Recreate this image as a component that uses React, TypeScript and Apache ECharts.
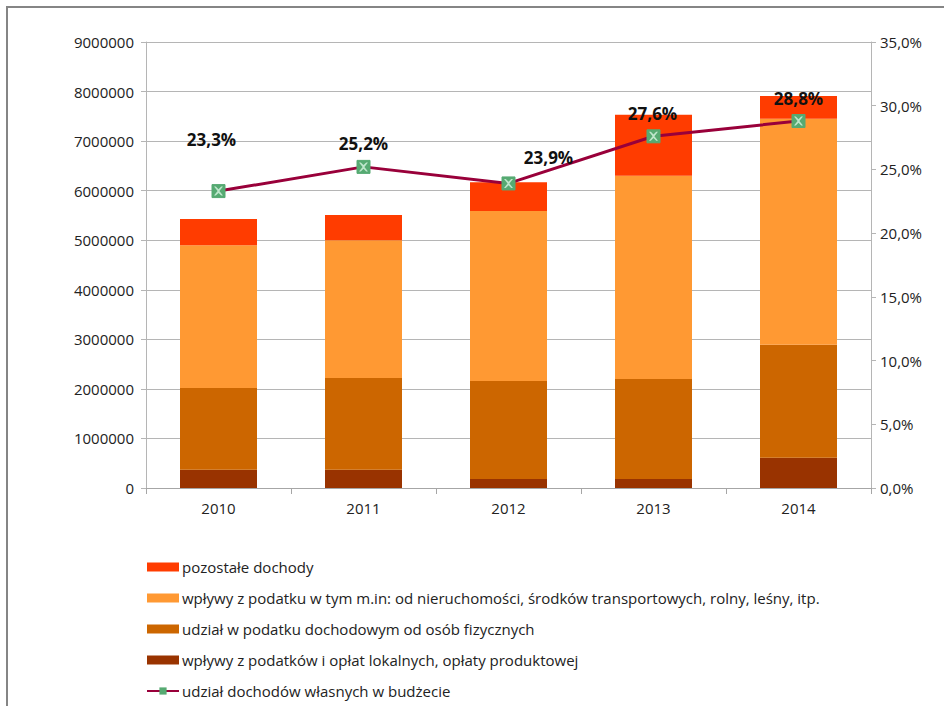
import React, { useEffect, useRef } from "react";
import * as echarts from "echarts";

const years = ["2010", "2011", "2012", "2013", "2014"];
const oplatyLokalne = [370000, 370000, 180000, 180000, 610000];
const udzialPIT = [1650000, 1850000, 1980000, 2020000, 2280000];
const podatkiNieruch = [2880000, 2780000, 3430000, 4100000, 4560000];
const pozostale = [530000, 510000, 580000, 1230000, 460000];
const udzialWlasnych = [23.3, 25.2, 23.9, 27.6, 28.8];
const leftTicks = { min: 0, max: 9000000, interval: 1000000 };
const rightTicks = { min: 0, max: 35, interval: 5 };
const labelOffsets: [number, number][] = [[-7, -31], [0, -3], [40, -5], [-1, -2], [0, -2]];

const names = [
  "pozostałe dochody",
  "wpływy z podatku w tym m.in: od nieruchomości, środków transportowych, rolny, leśny, itp.",
  "udział w podatku dochodowym od osób fizycznych",
  "wpływy z podatków i opłat lokalnych, opłaty produktowej",
  "udział dochodów własnych w budżecie",
];

const FONT = "'Open Sans', 'Liberation Sans', sans-serif";

export default function App() {
  const ref = useRef<HTMLDivElement>(null);
  useEffect(() => {
    if (!ref.current) return;
    const chart = echarts.init(ref.current, undefined, { renderer: "svg" });
    const bar = (name: string, data: number[], color: string) => ({
      name,
      type: "bar",
      stack: "total",
      barWidth: 77,
      data,
      itemStyle: { color },
      yAxisIndex: 0,
    });
    chart.setOption({
      animation: false,
      backgroundColor: "#ffffff",
      textStyle: { fontFamily: FONT },
      graphic: [
        {
          type: "rect",
          shape: { x: 7, y: 7, width: 1000, height: 800 },
          style: { fill: "none", stroke: "#858585", lineWidth: 2 },
          silent: true,
        },
      ],
      grid: { left: 146, right: 73, top: 42, bottom: 218 },
      legend: {
        orient: "vertical",
        left: 146,
        top: 557,
        height: 149,
        padding: 0,
        itemWidth: 32,
        itemHeight: 9,
        itemGap: 11,
        data: [
          { name: names[0], icon: "rect" },
          { name: names[1], icon: "rect" },
          { name: names[2], icon: "rect" },
          { name: names[3], icon: "rect" },
          { name: names[4] },
        ],
        textStyle: { fontSize: 15, color: "#222", fontFamily: FONT, lineHeight: 20, padding: [0, 0, 0, -2] },
      },
      xAxis: {
        type: "category",
        data: years,
        axisLine: { lineStyle: { color: "#a6a6a6", width: 1 } },
        axisTick: { show: true, length: 6, lineStyle: { color: "#a6a6a6" } },
        axisLabel: { fontSize: 15, color: "#222", margin: 12 },
      },
      yAxis: [
        {
          type: "value",
          ...leftTicks,
          axisLine: { show: true, lineStyle: { color: "#b5b5b5" } },
          axisTick: { show: true, length: 5, lineStyle: { color: "#b5b5b5" } },
          splitLine: { lineStyle: { color: "#b5b5b5" } },
          axisLabel: { fontSize: 15, color: "#222", margin: 12, formatter: (v: number) => String(v) },
        },
        {
          type: "value",
          ...rightTicks,
          position: "right",
          axisLine: { show: true, lineStyle: { color: "#b5b5b5" } },
          axisTick: { show: true, length: 5, lineStyle: { color: "#b5b5b5" } },
          splitLine: { show: false },
          axisLabel: {
            fontSize: 15,
            color: "#222",
            margin: 9,
            formatter: (v: number) => v.toFixed(1).replace(".", ",") + "%",
          },
        },
      ],
      series: [
        bar(names[3], oplatyLokalne, "#993300"),
        bar(names[2], udzialPIT, "#CC6600"),
        bar(names[1], podatkiNieruch, "#FF9933"),
        bar(names[0], pozostale, "#FF3C00"),
        {
          name: names[4],
          type: "line",
          yAxisIndex: 1,
          data: udzialWlasnych.map((v, i) => ({
            value: v,
            label: { offset: labelOffsets[i] },
          })),
          lineStyle: { color: "#99003A", width: 3 },
          itemStyle: { color: "#56AA72", borderColor: "#56AA72" },
          symbol: "rect",
          symbolSize: 13,
          z: 5,
          label: {
            show: true,
            position: "top",
            fontSize: 17,
            fontWeight: "bold",
            color: "#111",
            fontFamily: FONT,
            formatter: (p: any) => p.value.toFixed(1).replace(".", ",") + "%",
          },
        },
        {
          name: "marker-x",
          type: "scatter",
          yAxisIndex: 1,
          data: udzialWlasnych,
          symbol: "path://M0,0 L2,0 L5,3 L8,0 L10,0 L6,5 L10,10 L8,10 L5,7 L2,10 L0,10 L4,5 Z",
          symbolSize: 9,
          itemStyle: { color: "#d8f5e2" },
          z: 6,
          silent: true,
        },
      ],
    });
    return () => chart.dispose();
  }, []);
  return (
    <div
      ref={ref}
      style={{ position: "fixed", left: 0, top: 0, width: 944, height: 706 }}
    />
  );
}
